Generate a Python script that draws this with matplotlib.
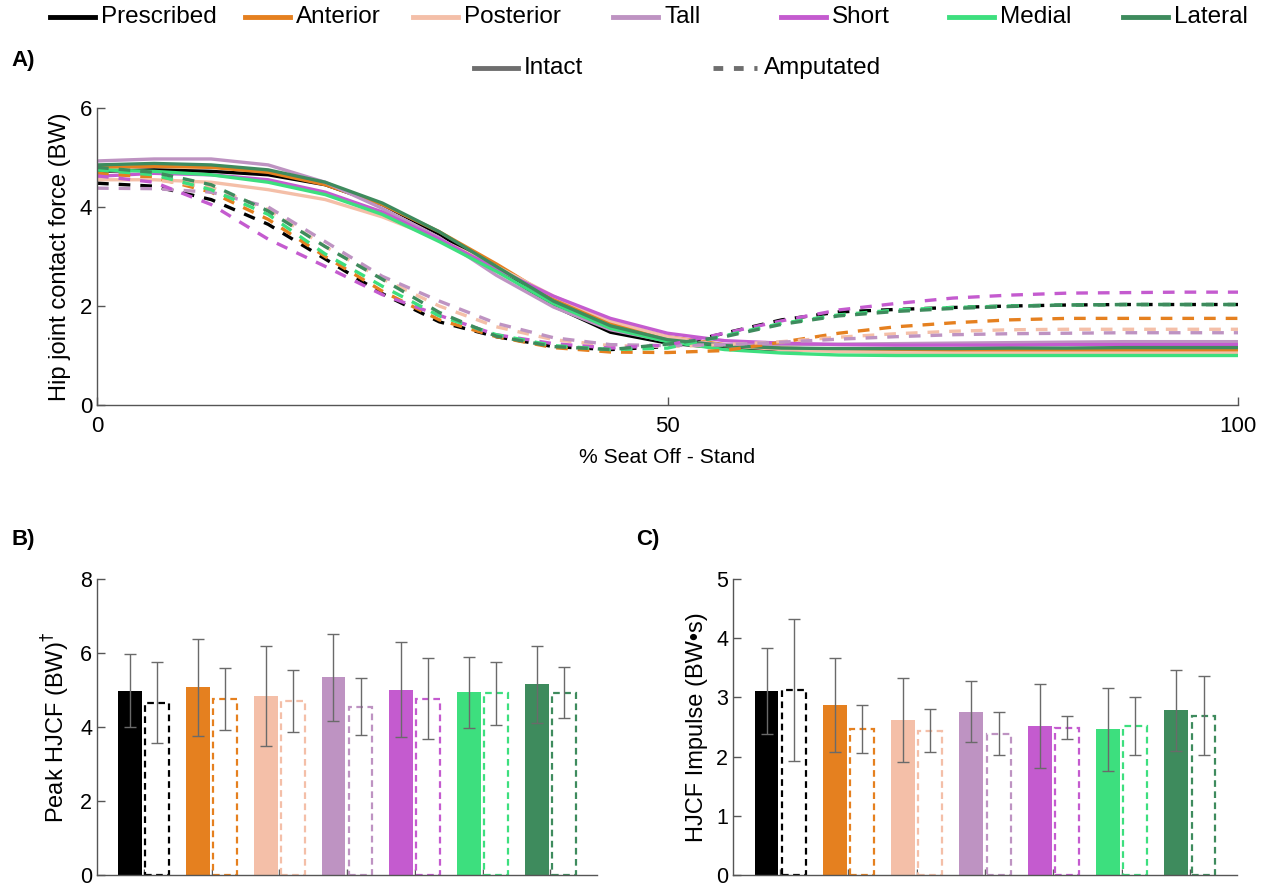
import numpy as np
import matplotlib
matplotlib.use('Agg')
import matplotlib.pyplot as plt
from matplotlib.lines import Line2D

plt.rcParams['font.family'] = ['Liberation Sans', 'DejaVu Sans']

conditions = ['Prescribed', 'Anterior', 'Posterior', 'Tall', 'Short', 'Medial', 'Lateral']
colors = ['#000000', '#E5801F', '#F4BFA8', '#BE93C2', '#C45BCF', '#3DDF7E', '#3E8B5D']

# % of seat off - stand
pct = [0, 5, 10, 15, 20, 25, 30, 35, 40, 45, 50, 55, 60, 65, 70, 75, 80, 85, 90, 95, 100]

# hip joint contact force (BW), intact limb
intact_hjcf = {
    'Prescribed': [4.72, 4.75, 4.72, 4.65, 4.45, 4.05, 3.45, 2.75, 2.00, 1.47, 1.25, 1.15, 1.12, 1.10, 1.10, 1.11, 1.12, 1.13, 1.14, 1.15, 1.15],
    'Anterior':   [4.80, 4.82, 4.80, 4.70, 4.45, 4.05, 3.50, 2.85, 2.15, 1.65, 1.38, 1.22, 1.15, 1.12, 1.10, 1.10, 1.10, 1.10, 1.10, 1.10, 1.10],
    'Posterior':  [4.55, 4.55, 4.50, 4.35, 4.15, 3.80, 3.35, 2.80, 2.20, 1.70, 1.38, 1.20, 1.12, 1.08, 1.06, 1.05, 1.05, 1.05, 1.05, 1.05, 1.05],
    'Tall':       [4.93, 4.97, 4.97, 4.85, 4.50, 3.97, 3.38, 2.62, 1.98, 1.52, 1.29, 1.22, 1.22, 1.23, 1.24, 1.25, 1.26, 1.27, 1.28, 1.28, 1.28],
    'Short':      [4.62, 4.68, 4.65, 4.55, 4.30, 3.90, 3.35, 2.75, 2.20, 1.75, 1.45, 1.30, 1.25, 1.22, 1.21, 1.21, 1.21, 1.22, 1.22, 1.22, 1.22],
    'Medial':     [4.75, 4.72, 4.65, 4.50, 4.25, 3.85, 3.30, 2.70, 2.05, 1.55, 1.28, 1.12, 1.05, 1.01, 1.00, 1.00, 1.00, 1.00, 1.00, 1.00, 1.00],
    'Lateral':    [4.85, 4.88, 4.85, 4.75, 4.50, 4.08, 3.50, 2.80, 2.10, 1.60, 1.32, 1.20, 1.15, 1.14, 1.14, 1.14, 1.15, 1.15, 1.16, 1.16, 1.16],
}

# hip joint contact force (BW), amputated limb
amputated_hjcf = {
    'Prescribed': [4.48, 4.42, 4.15, 3.65, 2.95, 2.25, 1.68, 1.38, 1.18, 1.12, 1.18, 1.45, 1.72, 1.88, 1.93, 1.97, 2.00, 2.02, 2.03, 2.03, 2.03],
    'Anterior':   [4.68, 4.60, 4.30, 3.75, 3.00, 2.30, 1.72, 1.38, 1.16, 1.07, 1.06, 1.10, 1.27, 1.45, 1.58, 1.66, 1.72, 1.75, 1.75, 1.75, 1.75],
    'Posterior':  [4.56, 4.55, 4.40, 3.95, 3.20, 2.55, 2.00, 1.58, 1.32, 1.20, 1.18, 1.22, 1.28, 1.37, 1.44, 1.49, 1.52, 1.53, 1.53, 1.53, 1.53],
    'Tall':       [4.38, 4.37, 4.30, 4.00, 3.30, 2.60, 2.10, 1.65, 1.36, 1.22, 1.20, 1.22, 1.27, 1.33, 1.38, 1.42, 1.44, 1.45, 1.46, 1.46, 1.46],
    'Short':      [4.63, 4.50, 4.05, 3.35, 2.80, 2.23, 1.81, 1.42, 1.24, 1.15, 1.21, 1.45, 1.70, 1.92, 2.05, 2.16, 2.22, 2.26, 2.27, 2.28, 2.28],
    'Medial':     [4.75, 4.65, 4.35, 3.85, 3.05, 2.40, 1.80, 1.42, 1.20, 1.12, 1.15, 1.40, 1.65, 1.82, 1.92, 1.97, 2.00, 2.02, 2.03, 2.03, 2.03],
    'Lateral':    [4.80, 4.70, 4.45, 3.92, 3.20, 2.54, 1.87, 1.39, 1.18, 1.12, 1.23, 1.38, 1.63, 1.80, 1.89, 1.95, 1.99, 2.02, 2.03, 2.03, 2.03],
}

# peak HJCF (BW), mean and SD
peak_intact = [4.98, 5.07, 4.84, 5.34, 5.01, 4.94, 5.15]
peak_intact_sd = [0.98, 1.30, 1.34, 1.18, 1.28, 0.96, 1.04]
peak_amp = [4.66, 4.76, 4.71, 4.55, 4.77, 4.91, 4.93]
peak_amp_sd = [1.10, 0.83, 0.84, 0.77, 1.09, 0.86, 0.70]

# HJCF impulse (BW*s), mean and SD
imp_intact = [3.11, 2.87, 2.62, 2.76, 2.51, 2.46, 2.78]
imp_intact_sd = [0.72, 0.79, 0.71, 0.51, 0.71, 0.70, 0.69]
imp_amp = [3.13, 2.47, 2.44, 2.39, 2.49, 2.51, 2.69]
imp_amp_sd = [1.20, 0.41, 0.37, 0.36, 0.19, 0.49, 0.67]

AXIS_GRAY = '#555555'
ERR_GRAY = '#6a6a6a'
LABEL_FS = 17
LEGEND_FS = 17.5


def style_axes(ax, tick_fs):
    ax.spines['top'].set_visible(False)
    ax.spines['right'].set_visible(False)
    for s in ['left', 'bottom']:
        ax.spines[s].set_color(AXIS_GRAY)
        ax.spines[s].set_linewidth(1.0)
    ax.tick_params(direction='in', colors=AXIS_GRAY, labelcolor='black',
                   labelsize=tick_fs, length=6, width=1.0)


def bar_panel(ax, intact, intact_sd, amp, amp_sd, ymax, ylabel):
    x = np.arange(1, len(conditions) + 1)
    w = 0.35
    off = 0.2
    for i, c in enumerate(colors):
        ax.bar(x[i] - off, intact[i], w, color=c, edgecolor='none', zorder=2)
        ax.bar(x[i] + off, amp[i], w, facecolor='white', edgecolor=c,
               linestyle=(0, (3, 2)), linewidth=1.6, zorder=2)
    ax.errorbar(x - off, intact, yerr=intact_sd, fmt='none', ecolor=ERR_GRAY,
                elinewidth=1.0, capsize=4, capthick=1.0, zorder=3)
    ax.errorbar(x + off, amp, yerr=amp_sd, fmt='none', ecolor=ERR_GRAY,
                elinewidth=1.0, capsize=4, capthick=1.0, zorder=3)
    ax.set_xlim(0.31, 7.69)
    ax.set_ylim(0, ymax)
    ax.set_xticks(x)
    ax.set_xticklabels([])
    ax.set_ylabel(ylabel, fontsize=LABEL_FS, labelpad=6)
    style_axes(ax, 15.5)
    ax.tick_params(axis='x', length=4)


fig = plt.figure(figsize=(12.7, 8.88), dpi=100)

# A) force curves
axA = fig.add_axes([0.0764, 0.5439, 0.8984, 0.3345])
for name, c in zip(conditions, colors):
    axA.plot(pct, intact_hjcf[name], color=c, linewidth=2.4, solid_capstyle='butt')
for name, c in zip(conditions, colors):
    axA.plot(pct, amputated_hjcf[name], color=c, linewidth=2.4,
             linestyle=(0, (3.5, 3)), dash_capstyle='butt')
axA.set_xlim(0, 100)
axA.set_ylim(0, 6)
axA.set_xticks([0, 50, 100])
axA.set_yticks([0, 2, 4, 6])
axA.set_xlabel('% Seat Off - Stand', fontsize=15.2, labelpad=8)
axA.set_ylabel('Hip joint contact force (BW)', fontsize=LABEL_FS, labelpad=6)
style_axes(axA, 16)
axA.tick_params(axis='x', pad=8)

# B) peak HJCF
axB = fig.add_axes([0.0764, 0.0146, 0.3937, 0.3334])
bar_panel(axB, peak_intact, peak_intact_sd, peak_amp, peak_amp_sd, 8,
          'Peak HJCF (BW)$^{\\dagger}$')
axB.set_yticks([0, 2, 4, 6, 8])

# C) HJCF impulse
axC = fig.add_axes([0.5772, 0.0146, 0.3968, 0.3334])
bar_panel(axC, imp_intact, imp_intact_sd, imp_amp, imp_amp_sd, 5,
          'HJCF Impulse (BW\u2022s)')
axC.set_yticks([0, 1, 2, 3, 4, 5])

# panel letters
fig.text(0.009, 0.932, 'A)', fontsize=16, fontweight='bold', va='center')
fig.text(0.009, 0.392, 'B)', fontsize=16, fontweight='bold', va='center')
fig.text(0.501, 0.392, 'C)', fontsize=16, fontweight='bold', va='center')

# legend: conditions
H = 888.0
W = 1270.0
leg_x = [50, 245, 413, 613, 781, 949, 1123]
for name, c, px in zip(conditions, colors, leg_x):
    fig.add_artist(Line2D([px / W, (px + 45) / W], [1 - 17 / H, 1 - 17 / H],
                          color=c, linewidth=3.5, transform=fig.transFigure))
    fig.text((px + 51) / W, 1 - 17 / H, name, fontsize=LEGEND_FS, va='center')

# legend: limb
fig.add_artist(Line2D([474 / W, 518 / W], [1 - 68 / H, 1 - 68 / H], color='#6e6e6e',
                      linewidth=3.5, transform=fig.transFigure))
fig.text(524 / W, 1 - 68 / H, 'Intact', fontsize=LEGEND_FS, va='center')
fig.add_artist(Line2D([713 / W, 757 / W], [1 - 68 / H, 1 - 68 / H], color='#6e6e6e',
                      linewidth=3.5, linestyle=(0, (2, 2.2)), transform=fig.transFigure))
fig.text(764 / W, 1 - 68 / H, 'Amputated', fontsize=LEGEND_FS, va='center')

fig.savefig('out.png', dpi=100)
